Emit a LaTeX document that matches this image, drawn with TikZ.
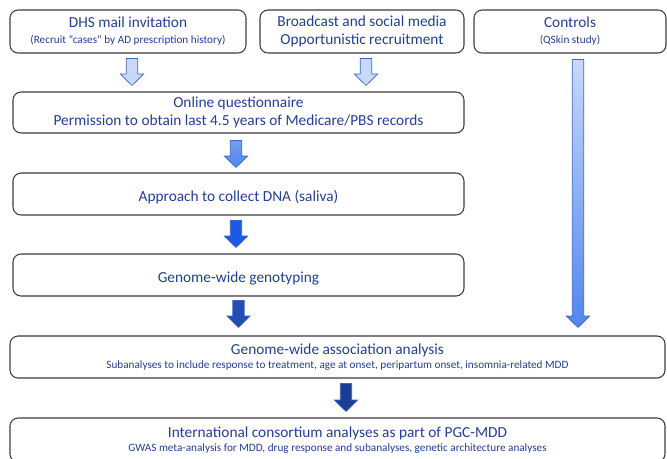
\documentclass[tikz,border=0pt]{standalone}
\usepackage{fontspec}
\setmainfont{Carlito}
\usetikzlibrary{calc,positioning}
\definecolor{txtblue}{RGB}{35,62,150}
\definecolor{edgegray}{RGB}{60,60,60}
\definecolor{paleblue}{RGB}{198,217,248}
\definecolor{midblue}{RGB}{80,134,240}
\definecolor{brightblue}{RGB}{28,90,230}
\definecolor{deepblue}{RGB}{34,78,178}
\definecolor{navyblue}{RGB}{26,62,148}
\definecolor{arrowedge}{RGB}{62,100,190}
\tikzset{
  box/.style={draw=edgegray, line width=0.8pt, rounded corners=6pt, align=center,
    text=txtblue, inner sep=0pt, font=\fontsize{11.5}{13.5}\selectfont,
    execute at begin node={\rule{0pt}{12.6pt}}},
  fat/.style={draw=arrowedge, line width=0.5pt, line join=miter}
}
\newcommand{\subline}{\fontsize{8.4}{10}\selectfont}
% block arrow from start point down to tip
\newcommand{\fatarrow}[3]{%
  \draw[fat,#3] let \p1=#1, \p2=#2 in
    (\x1-4.3pt,\y1) -- (\x1+4.3pt,\y1) -- (\x1+4.3pt,\y2+8.6pt) -- (\x1+8.8pt,\y2+8.6pt)
    -- (\x1,\y2) -- (\x1-8.8pt,\y2+8.6pt) -- (\x1-4.3pt,\y2+8.6pt) -- cycle;}

\begin{document}
\begin{tikzpicture}[x=0.75pt,y=-0.75pt]
    \useasboundingbox (0,0) rectangle (667,458);

    % Recruitment sources
    \node[box, minimum width=177pt, minimum height=32.25pt] (dhs) at (128,31.5)
      {DHS mail invitation\\[-1.5pt]{\subline(Recruit ``cases'' by AD prescription history)}};
    \node[box, minimum width=153pt, minimum height=32.25pt] (media) at (362,31.5)
      {Broadcast and social media\\[-0.5pt]Opportunistic recruitment};
    \node[box, minimum width=144pt, minimum height=32.25pt] (controls) at (570,31.5)
      {Controls\\[-1.5pt]{\subline(QSkin study)}};

    % Case pipeline
    \node[box, minimum width=338.25pt, minimum height=30.75pt] (online) at (238.5,112.5)
      {Online questionnaire\\Permission to obtain last 4.5 years of Medicare/PBS records};
    \node[box, minimum width=338.25pt, minimum height=31.5pt] (dna) at (238.5,194)
      {Approach to collect DNA (saliva)};
    \node[box, minimum width=338.25pt, minimum height=31.5pt] (geno) at (238.5,275)
      {Genome-wide genotyping};

    % Analyses
    \node[box, minimum width=491.25pt, minimum height=31.5pt] (gwas) at (337.5,357)
      {Genome-wide association analysis\\[-2.5pt]{\subline Subanalyses to include response to treatment, age at onset, peripartum onset, insomnia-related MDD}};
    \node[box, minimum width=491.25pt, minimum height=33pt] (pgc) at (337.5,440)
      {International consortium analyses as part of PGC-MDD\\[-2.5pt]{\subline GWAS meta-analysis for MDD, drug response and subanalyses, genetic architecture analyses}};

    % Block arrows
    \fatarrow{($(dhs.south)+(4,5)$)}{($(dhs.south|-online.north)+(4,-6)$)}{fill=paleblue}
    \fatarrow{($(media.south)+(4,5)$)}{($(media.south|-online.north)+(4,-6)$)}{fill=paleblue}
    \fatarrow{($(online.south)+(-2.5,7)$)}{($(dna.north)+(-2.5,-5)$)}{top color=midblue!80!white, bottom color=midblue}
    \fatarrow{($(dna.south)+(-2.5,5)$)}{($(geno.north)+(-2.5,-6)$)}{fill=brightblue}
    \fatarrow{($(geno.south)+(0,4)$)}{($(geno.south|-gwas.north)+(0,-8)$)}{fill=deepblue}
    \fatarrow{($(gwas.south)+(8.5,5)$)}{($(pgc.north)+(8.5,-6)$)}{fill=navyblue}
    \fatarrow{($(controls.south)+(8,6)$)}{($(controls.south|-gwas.north)+(8,-8)$)}{top color=paleblue, bottom color=midblue}

\end{tikzpicture}
\end{document}
